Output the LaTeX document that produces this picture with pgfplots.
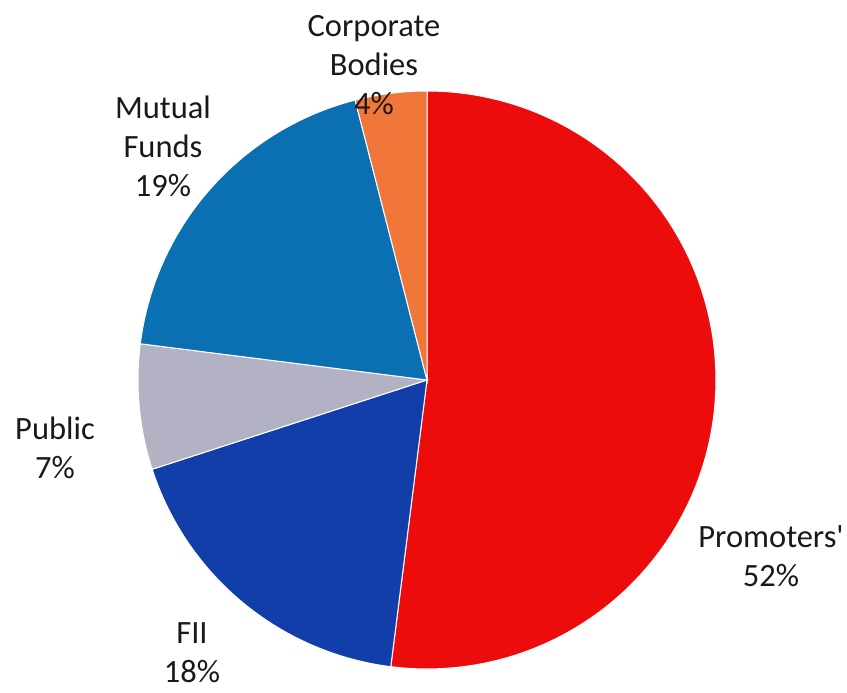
\documentclass[border=0pt]{standalone}
\usepackage{pgfplots}
\pgfplotsset{compat=1.18}
\usepackage{fontspec}
\setmainfont{Carlito}
\definecolor{cProm}{RGB}{236,12,12}
\definecolor{cFII}{RGB}{18,62,170}
\definecolor{cPub}{RGB}{178,178,196}
\definecolor{cMF}{RGB}{10,112,178}
\definecolor{cCorp}{RGB}{240,118,58}
\begin{document}
\begin{tikzpicture}
% shares in percent
\def\vProm{52}\def\vFII{18}\def\vPub{7}\def\vMF{19}\def\vCorp{4}
\pgfmathsetmacro\aA{90}
\pgfmathsetmacro\aB{\aA-3.6*\vProm}
\pgfmathsetmacro\aC{\aB-3.6*\vFII}
\pgfmathsetmacro\aD{\aC-3.6*\vPub}
\pgfmathsetmacro\aE{\aD-3.6*\vMF}
\pgfmathsetmacro\aF{\aE-3.6*\vCorp}
\begin{axis}[
  width=847pt, height=693pt, scale only axis,
  xmin=0, xmax=847, ymin=0, ymax=693,
  hide axis, clip=false,
]
\path (axis cs:0,0) rectangle (axis cs:847,693);
\addplot[fill=cProm, draw=white, line width=1pt, domain=\aA:\aB, samples=90] ({427+289*cos(x)},{313+289*sin(x)}) -- (axis cs:427,313) -- cycle;
\addplot[fill=cFII, draw=white, line width=1pt, domain=\aB:\aC, samples=40] ({427+289*cos(x)},{313+289*sin(x)}) -- (axis cs:427,313) -- cycle;
\addplot[fill=cPub, draw=white, line width=1pt, domain=\aC:\aD, samples=20] ({427+289*cos(x)},{313+289*sin(x)}) -- (axis cs:427,313) -- cycle;
\addplot[fill=cMF, draw=white, line width=1pt, domain=\aD:\aE, samples=40] ({427+289*cos(x)},{313+289*sin(x)}) -- (axis cs:427,313) -- cycle;
\addplot[fill=cCorp, draw=white, line width=1pt, domain=\aE:\aF, samples=15] ({427+289*cos(x)},{313+289*sin(x)}) -- (axis cs:427,313) -- cycle;
\begin{scope}[every node/.style={align=center, font=\fontsize{32.5}{39}\selectfont, text=black!90, inner sep=0pt}]
\node at (axis cs:374,628) {Corporate\\Bodies\\\vCorp\%};
\node at (axis cs:163,547) {Mutual\\Funds\\\vMF\%};
\node at (axis cs:55,245) {Public\\\vPub\%};
\node at (axis cs:771,137) {Promoters\textquotesingle\\\vProm\%};
\node at (axis cs:192,40) {FII\\\vFII\%};
\end{scope}
\end{axis}
\end{tikzpicture}
\end{document}
